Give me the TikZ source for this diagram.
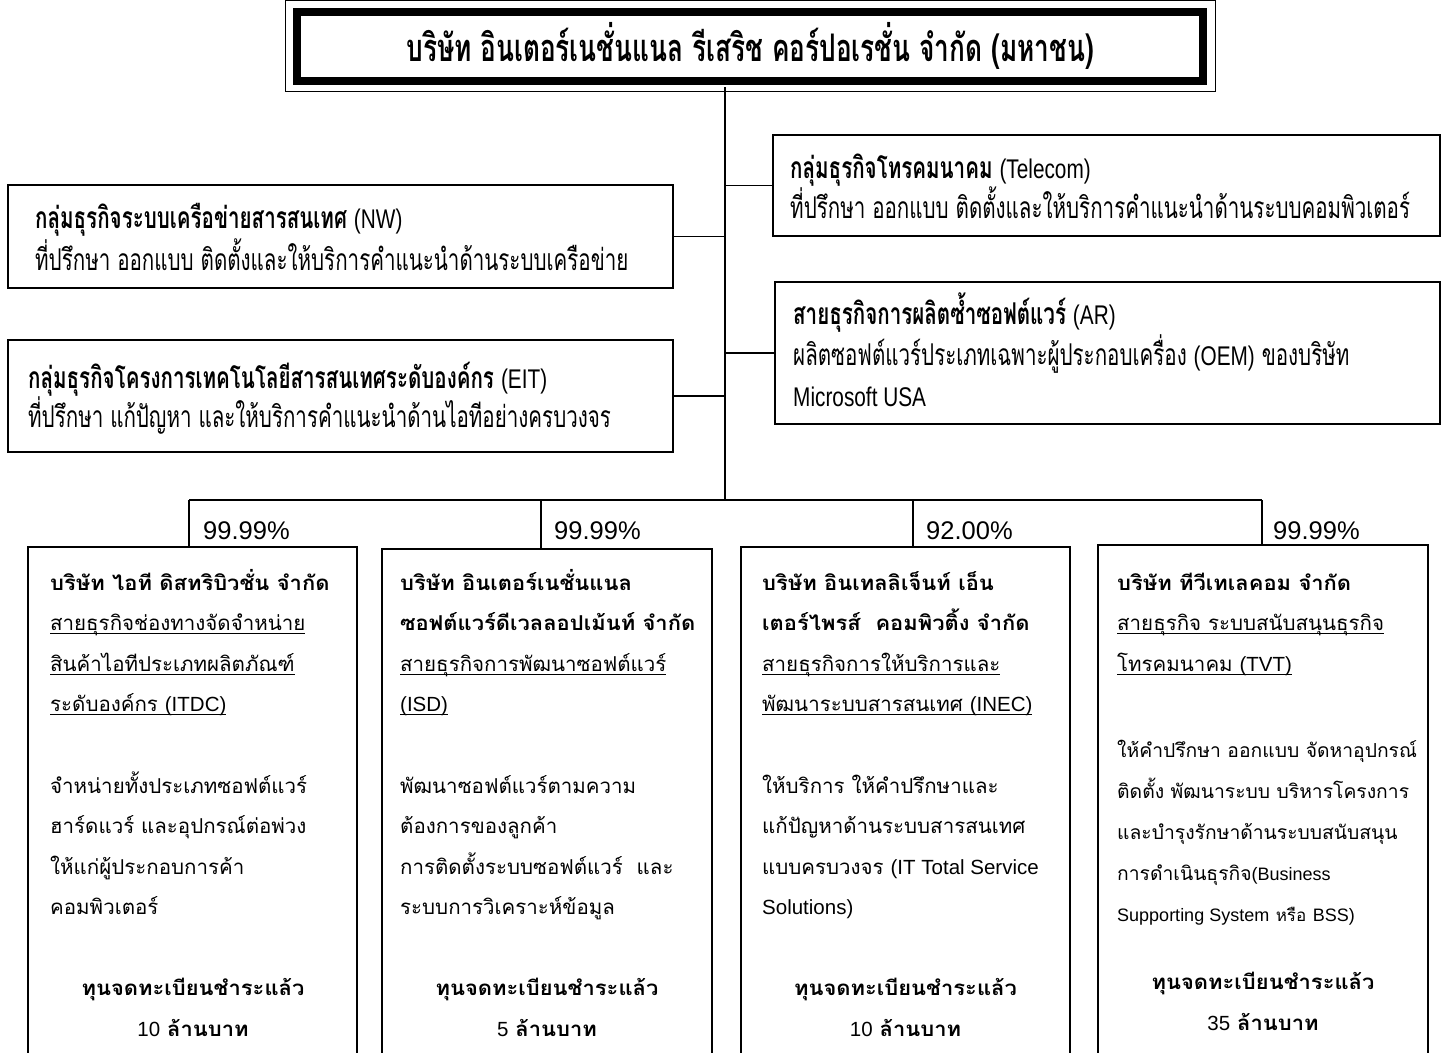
\documentclass[tikz,border=0pt]{standalone}
\usepackage{fontspec}
\setmainfont[Script=Thai,BoldFeatures={FakeStretch=1.07}]{Loma}
\newfontfamily\en{Liberation Sans}
\newfontfamily\thn[Script=Thai,FakeStretch=0.685]{Loma}
\newfontfamily\thtitle[Script=Thai,FakeStretch=0.69]{Loma}
\newfontfamily\enn[FakeStretch=0.77]{Liberation Sans}
\newcommand\E[1]{{\en #1}}
\newcommand\ES[1]{{\en\fontsize{18}{18}\selectfont #1}}
\newcommand\EN[1]{{\enn\mdseries\fontsize{27}{27}\selectfont #1}}
\newcommand\sA{\rule{0pt}{32pt}}
\newcommand\sB{\rule{0pt}{24pt}}
\newcommand\myul[1]{\setbox0\hbox{#1}\rlap{\rule[-3.5pt]{\wd0}{1.1pt}}\box0}
\begin{document}
\begin{tikzpicture}[x=1pt,y=-1pt,
  frame/.style={draw, line width=1.7pt, rectangle, inner sep=0pt},
  conn/.style={line width=1.7pt},
  toptxt/.style={anchor=north west, inner sep=0pt, align=left},
  bottxt/.style={anchor=north west, inner sep=0pt, align=left, font=\fontsize{20.5}{40.5}\selectfont},
  captxt/.style={anchor=north, inner sep=0pt, align=center, font=\fontsize{20.5}{41}\selectfont},
  pct/.style={anchor=base west, inner sep=0pt, font=\en\fontsize{25.5}{25.5}\selectfont}]
\useasboundingbox (0,0) rectangle (1450,1052);
\clip (0,0) rectangle (1450,1052);
\fill[white] (0,0) rectangle (1450,1052);

% title
\node[draw, line width=8pt, minimum width=906, minimum height=69, inner sep=0pt,
  font=\thtitle\bfseries\fontsize{38}{38}\selectfont] (top) at (750,46)
  {บริษัท อินเตอร์เนชั่นแนล รีเสริช คอร์ปอเรชั่น จำกัด (มหาชน)};
\draw[line width=1pt] ([shift={(-8,-7.5)}]top.north west) rectangle ([shift={(8,6.5)}]top.south east);

% trunk and bus
\coordinate (ttop) at (725,87);
\coordinate (bus) at (725,500);
\coordinate (d1) at (189,500);
\coordinate (d2) at (541,500);
\coordinate (d3) at (913,500);
\coordinate (d4) at (1262,500);
\draw[conn] (ttop) -- (bus);
\draw[conn] (d1) -- (d4);

% upper boxes
\node[frame, minimum width=665, minimum height=103] (nw) at (340.5,236.5) {};
\node[frame, minimum width=665, minimum height=112] (eit) at (340.5,396) {};
\node[frame, minimum width=667, minimum height=101] (tel) at (1106.5,185.5) {};
\node[frame, minimum width=665, minimum height=142] (ar) at (1107.5,353) {};
\draw[conn] (nw.east) -- (nw.east -| bus);
\draw[conn] (eit.east) -- (eit.east -| bus);
\draw[conn] (tel.west) -- (tel.west -| bus);
\draw[conn] (ar.west) -- (ar.west -| bus);

\node[toptxt, font=\thn\fontsize{30}{42}\selectfont] (nwt) at (35,196)
  {\sA\textbf{กลุ่มธุรกิจระบบเครือข่ายสารสนเทศ} \EN{(NW)}\\
   ที่ปรึกษา ออกแบบ ติดตั้งและให้บริการคำแนะนำด้านระบบเครือข่าย};
\node[toptxt, font=\thn\fontsize{30}{35}\selectfont] (eitt) at (28,356)
  {\sA\textbf{กลุ่มธุรกิจโครงการเทคโนโลยีสารสนเทศระดับองค์กร} \EN{(EIT)}\\
   ที่ปรึกษา แก้ปัญหา และให้บริการคำแนะนำด้านไอทีอย่างครบวงจร};
\node[toptxt, font=\thn\fontsize{30}{38}\selectfont] (telt) at (790,146)
  {\sA\textbf{กลุ่มธุรกิจโทรคมนาคม} \EN{(Telecom)}\\
   ที่ปรึกษา ออกแบบ ติดตั้งและให้บริการคำแนะนำด้านระบบคอมพิวเตอร์};
\node[toptxt, font=\thn\fontsize{30}{41}\selectfont] (art) at (793,292)
  {\sA\textbf{สายธุรกิจการผลิตซ้ำซอฟต์แวร์} \EN{(AR)}\\
   ผลิตซอฟต์แวร์ประเภทเฉพาะผู้ประกอบเครื่อง \EN{(OEM)} ของบริษัท\\
   \EN{Microsoft USA}};

% lower boxes
\node[frame, minimum width=329, minimum height=523] (b1) at (192.5,808.5) {};
\node[frame, minimum width=330, minimum height=521] (b2) at (547,809.5) {};
\node[frame, minimum width=329, minimum height=523] (b3) at (905.5,808.5) {};
\node[frame, minimum width=330, minimum height=525] (b4) at (1263,807.5) {};
\draw[conn] (d1) -- (b1.north -| d1);
\draw[conn] (d2) -- (b2.north -| d2);
\draw[conn] (d3) -- (b3.north -| d3);
\draw[conn] (d4) -- (b4.north -| d4);

\node[pct] (p1) at (203,539) {99.99\%};
\node[pct] (p2) at (554,539) {99.99\%};
\node[pct] (p3) at (926,539) {92.00\%};
\node[pct] (p4) at (1273,539) {99.99\%};

% box 1
\node[bottxt] (h1) at (50,566)
  {\sB\textbf{บริษัท ไอที ดิสทริบิวชั่น จำกัด}\\
   \myul{สายธุรกิจช่องทางจัดจำหน่าย}\\
   \myul{สินค้าไอทีประเภทผลิตภัณฑ์}\\
   \myul{ระดับองค์กร \E{(ITDC)}}};
\node[bottxt] (t1) at (50,769)
  {\sB จำหน่ายทั้งประเภทซอฟต์แวร์\\
   ฮาร์ดแวร์ และอุปกรณ์ต่อพ่วง\\
   ให้แก่ผู้ประกอบการค้า\\
   คอมพิวเตอร์};
\node[captxt] (c1) at (193,971)
  {\sB\textbf{ทุนจดทะเบียนชำระแล้ว}\\ \E{10} \textbf{ล้านบาท}};

% box 2
\node[bottxt] (h2) at (400,566)
  {\sB\textbf{บริษัท อินเตอร์เนชั่นแนล}\\
   \textbf{ซอฟต์แวร์ดีเวลลอปเม้นท์ จำกัด}\\
   \myul{สายธุรกิจการพัฒนาซอฟต์แวร์}\\
   \myul{\E{(ISD)}}};
\node[bottxt] (t2) at (400,769)
  {\sB พัฒนาซอฟต์แวร์ตามความ\\
   ต้องการของลูกค้า\\
   การติดตั้งระบบซอฟต์แวร์~~และ\\
   ระบบการวิเคราะห์ข้อมูล};
\node[captxt] (c2) at (547,971)
  {\sB\textbf{ทุนจดทะเบียนชำระแล้ว}\\ \E{5} \textbf{ล้านบาท}};

% box 3
\node[bottxt] (h3) at (762,566)
  {\sB\textbf{บริษัท อินเทลลิเจ็นท์ เอ็น}\\
   \textbf{เตอร์ไพรส์~~คอมพิวติ้ง จำกัด}\\
   \myul{สายธุรกิจการให้บริการและ}\\
   \myul{พัฒนาระบบสารสนเทศ \E{(INEC)}}};
\node[bottxt] (t3) at (762,769)
  {\sB ให้บริการ ให้คำปรึกษาและ\\
   แก้ปัญหาด้านระบบสารสนเทศ\\
   แบบครบวงจร \E{(IT Total Service}\\
   \E{Solutions)}};
\node[captxt] (c3) at (905.5,971)
  {\sB\textbf{ทุนจดทะเบียนชำระแล้ว}\\ \E{10} \textbf{ล้านบาท}};

% box 4
\node[bottxt] (h4) at (1117,566)
  {\sB\textbf{บริษัท ทีวีเทเลคอม จำกัด}\\
   \myul{สายธุรกิจ ระบบสนับสนุนธุรกิจ}\\
   \myul{โทรคมนาคม \E{(TVT)}}};
\node[bottxt, font=\fontsize{19.3}{41}\selectfont] (t4) at (1117,733)
  {\sB ให้คำปรึกษา ออกแบบ จัดหาอุปกรณ์\\
   ติดตั้ง พัฒนาระบบ บริหารโครงการ\\
   และบำรุงรักษาด้านระบบสนับสนุน\\
   การดำเนินธุรกิจ\ES{(Business}\\
   \ES{Supporting System} {\fontsize{17}{17}\selectfont หรือ} \ES{BSS)}};
\node[captxt] (c4) at (1263,965)
  {\sB\textbf{ทุนจดทะเบียนชำระแล้ว}\\ \E{35} \textbf{ล้านบาท}};
\end{tikzpicture}
\end{document}
